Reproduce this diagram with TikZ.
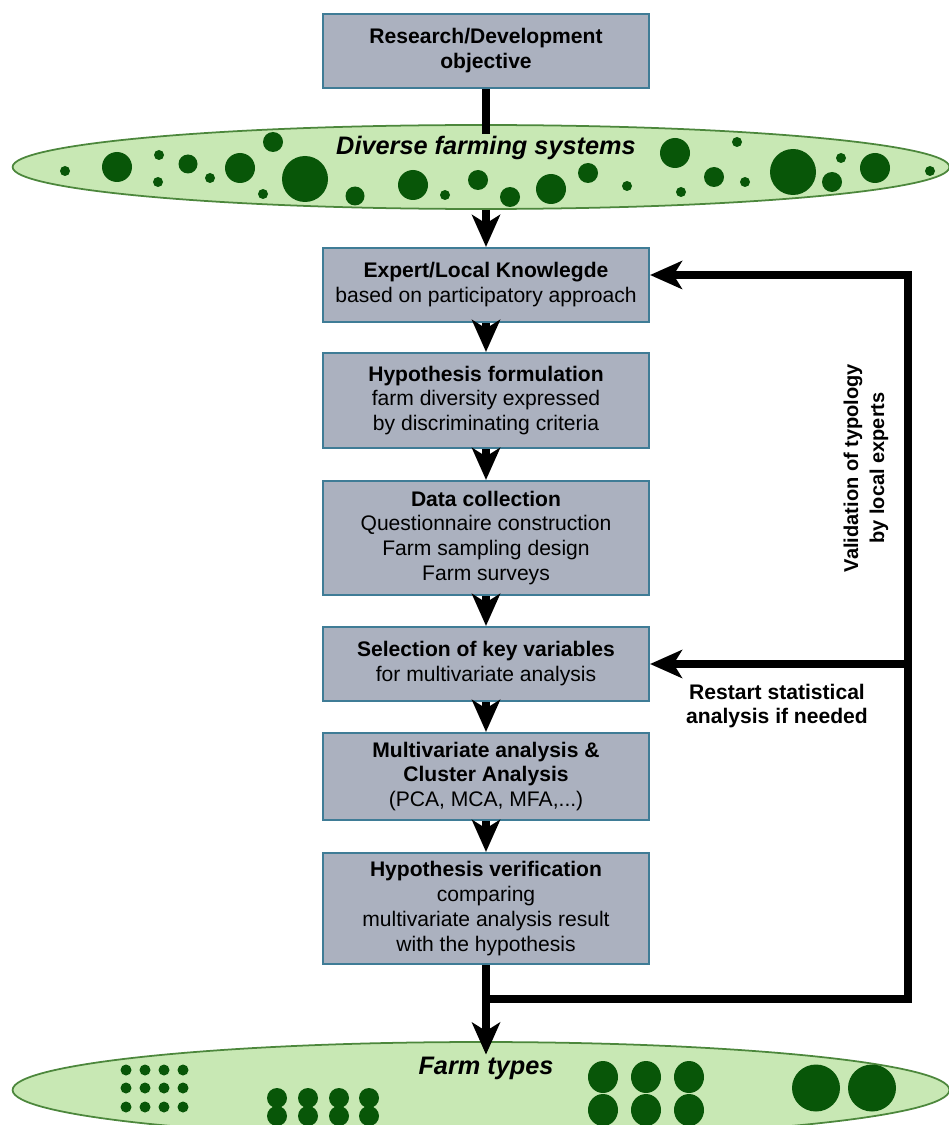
\documentclass[tikz,border=0pt]{standalone}
\usepackage{fontspec}
\setmainfont{Liberation Sans}
\usetikzlibrary{arrows.meta, shapes.geometric, calc}
\definecolor{typologyslate}{RGB}{171,177,191}
\definecolor{typologyteal}{RGB}{63,124,150}
\definecolor{fieldlight}{RGB}{200,232,180}
\definecolor{fieldedge}{RGB}{76,135,60}
\definecolor{farmgreen}{RGB}{8,86,8}
\tikzset{
  stage/.style={
    draw=typologyteal,
    line width=1.2pt,
    fill=typologyslate,
    minimum width=6.52cm,
    inner sep=2pt,
    align=center,
    font=\fontsize{12}{14.2}\selectfont
  },
  field/.style={
    ellipse,
    draw=fieldedge,
    line width=1pt,
    fill=fieldlight,
    minimum width=18.74cm,
    minimum height=1.68cm,
    inner sep=0pt
  },
  fieldtitle/.style={
    inner sep=1pt,
    font=\fontsize{14.4}{16}\selectfont\bfseries\itshape
  },
  sidenote/.style={
    align=center,
    font=\fontsize{12}{14}\selectfont\bfseries
  },
  farm/.style={fill=farmgreen},
  flow/.style={
    draw=black,
    line width=5pt
  },
  flowtip/.style={
    -{Stealth[length=0.64cm, width=0.56cm, inset=0.17cm]}
  },
  every edge/.style={
    flow,
    flowtip
  }
}

\begin{document}
\begin{tikzpicture}[x=0.02cm, y=-0.02cm]
  \useasboundingbox (0,0) rectangle (948,1125);

  % fields of farms
  \node[field] (diverse) at (481,167) {};
  \node[field, minimum height=1.92cm] (types) at (481,1090) {};

  \foreach \x/\y/\r in {65/171/5, 117/167/15, 159/155/5, 158/182/5, 188/164/9.5,
      210/178/5, 240/168/15, 273/142/10, 263/194/5, 305/179/23, 355/196/9.5,
      413/185/15, 445/195/5, 478/180/10, 510/197/10, 551/189/15, 588/173/10,
      627/186/5, 675/153/15, 681/192/5, 714/177/10, 737/142/5, 745/182/5,
      793/172/23, 841/158/5, 832/182/10, 875/168/15, 930/171/5}
    \fill[farm] (\x,\y) circle[radius=\r];

  \foreach \x in {126,145,164,183}
    \foreach \y in {1070,1088,1107}
      \fill[farm] (\x,\y) circle[radius=5.5];
  \foreach \x in {277,308,339,369}
    \foreach \y in {1098,1116}
      \fill[farm] (\x,\y) circle[radius=10];
  \foreach \x in {603,646,689}
    \foreach \y in {1077,1110}
      \fill[farm] (\x,\y) ellipse[x radius=15, y radius=16];
  \foreach \x in {816,872}
    \fill[farm] (\x,1088) ellipse[x radius=24, y radius=23.5];

  \node[fieldtitle] (diversetitle) at (486,148) {Diverse farming systems};
  \node[fieldtitle] (typestitle) at (486,1068) {Farm types};

  % steps
  \node[stage, minimum height=1.48cm] (objective) at (486,51)
    {\textbf{Research/Development}\\\textbf{objective}};
  \node[stage, minimum height=1.48cm] (expert) at (486,285)
    {\textbf{Expert/Local Knowlegde}\\based on participatory approach};
  \node[stage, minimum height=1.9cm] (hypothesis) at (486,400.5)
    {\textbf{Hypothesis formulation}\\farm diversity expressed\\by discriminating criteria};
  \node[stage, minimum height=2.28cm] (datacoll) at (486,538)
    {\textbf{Data collection}\\Questionnaire construction\\Farm sampling design\\Farm surveys};
  \node[stage, minimum height=1.48cm] (selection) at (486,664)
    {\textbf{Selection of key variables}\\for multivariate analysis};
  \node[stage, minimum height=1.74cm] (multivar) at (486,776.5)
    {\textbf{Multivariate analysis \&}\\\textbf{Cluster Analysis}\\(PCA, MCA, MFA,...)};
  \node[stage, minimum height=2.22cm] (verify) at (486,908.5)
    {\textbf{Hypothesis verification}\\comparing\\multivariate analysis result\\with the hypothesis};

  \draw[flow] (objective.south) -- (objective.south |- diversetitle.north);
  \path (expert.north |- diverse.south) edge (expert.north);
  \path (expert) edge (hypothesis)
        (hypothesis) edge (datacoll)
        (datacoll) edge (selection)
        (selection) edge (multivar)
        (multivar) edge (verify);
  \path (verify.south) edge (verify.south |- typestitle.north);

  % feedback loop
  \coordinate (rail) at (908,0);
  \coordinate (loopfoot) at ($(verify.south)+(0,34)$);
  \coordinate (feedback) at ([yshift=0.2cm]expert.east);
  \draw[flow, flowtip] (loopfoot) -| (feedback -| rail) -- (feedback);
  \draw[flow, flowtip] (selection.east -| rail) -- (selection.east);

  \node[sidenote, rotate=90, font=\fontsize{11.4}{14.8}\selectfont\bfseries] (validation) at (866,468)
    {Validation of typology\\by local experts};
  \node[sidenote] (restart) at (777,706) {Restart statistical\\analysis if needed};
\end{tikzpicture}
\end{document}
